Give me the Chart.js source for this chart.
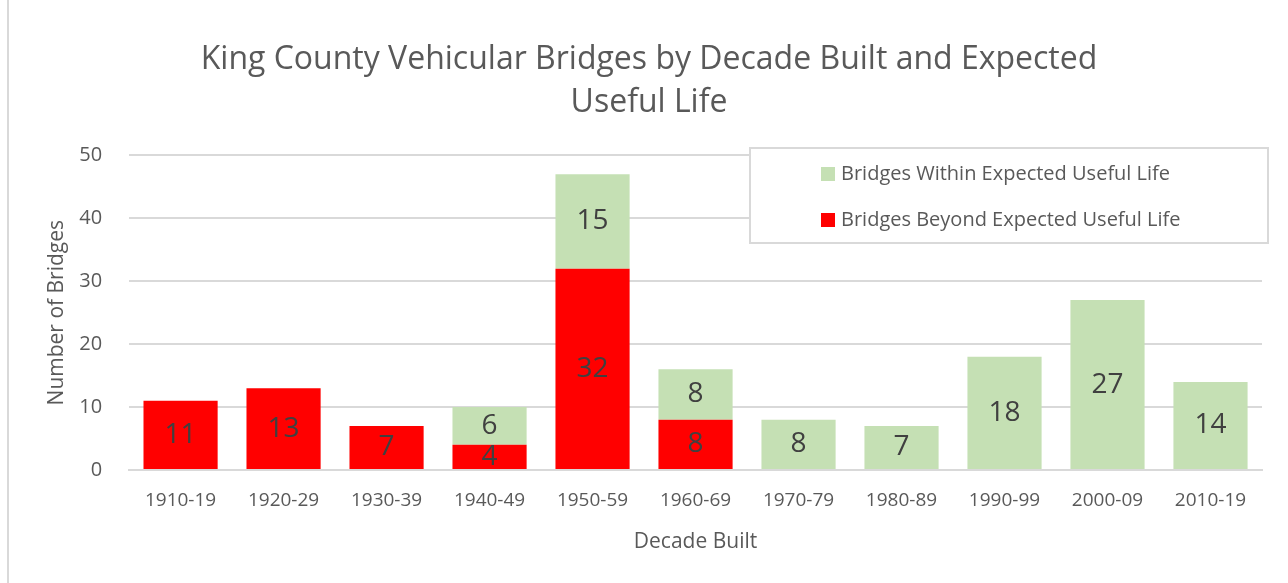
<!DOCTYPE html>
<html>
<head>
<meta charset="utf-8">
<script src="https://cdn.jsdelivr.net/npm/chart.js@4.4.0/dist/chart.umd.min.js"></script>
<style>
  html, body { margin: 0; padding: 0; background: #fff; }
  #wrap { position: relative; width: 1288px; height: 583px; }
  #frame { position: absolute; left: 7px; top: 0; width: 1290px; height: 600px; border-left: 2px solid #d9d9d9; }
  canvas { position: absolute; left: 0; top: 0; }
</style>
</head>
<body>
<div id="wrap">
  <div id="frame"></div>
  <canvas id="chart" width="1288" height="583"></canvas>
</div>
<script>
// Chart data
const decades = ['1910-19', '1920-29', '1930-39', '1940-49', '1950-59', '1960-69',
                 '1970-79', '1980-89', '1990-99', '2000-09', '2010-19'];
const beyondLife = [11, 13, 7, 4, 32, 8, 0, 0, 0, 0, 0];
const withinLife = [0, 0, 0, 6, 15, 8, 8, 7, 18, 27, 14];
const yTicks = [0, 10, 20, 30, 40, 50];

const FONT = "'Open Sans', 'Liberation Sans', sans-serif";
const TEXT_GREY = '#595959';

// Draw value labels centred in each bar segment
const segmentLabels = {
  id: 'segmentLabels',
  afterDatasetsDraw(chart) {
    const ctx = chart.ctx;
    ctx.save();
    ctx.font = `28px ${FONT}`;
    ctx.fillStyle = '#404040';
    ctx.textAlign = 'center';
    ctx.textBaseline = 'middle';
    chart.data.datasets.forEach((ds, di) => {
      chart.getDatasetMeta(di).data.forEach((bar, i) => {
        const v = ds.data[i];
        if (!v) return;
        const mid = (bar.y + bar.base) / 2;
        ctx.fillText(String(v), bar.x, mid);
      });
    });
    ctx.restore();
  }
};

// Boxed legend in the top right, green entry first
const boxLegend = {
  id: 'boxLegend',
  afterDraw(chart) {
    const ctx = chart.ctx;
    const x = 750, y = 148, w = 518, h = 95;
    ctx.save();
    ctx.fillStyle = '#fff';
    ctx.fillRect(x, y, w, h);
    ctx.strokeStyle = '#d9d9d9';
    ctx.lineWidth = 2;
    ctx.strokeRect(x, y, w, h);
    ctx.font = `20px ${FONT}`;
    ctx.textBaseline = 'middle';
    const items = chart.data.datasets.slice().reverse();
    items.forEach((ds, k) => {
      const cy = y + 26 + k * 46;
      ctx.fillStyle = ds.backgroundColor;
      ctx.fillRect(821, cy - 7, 14, 14);
      ctx.fillStyle = TEXT_GREY;
      ctx.fillText(ds.label, 841, cy);
    });
    ctx.restore();
  }
};

new Chart(document.getElementById('chart'), {
  type: 'bar',
  data: {
    labels: decades,
    datasets: [
      { label: 'Bridges Beyond Expected Useful Life', data: beyondLife, backgroundColor: '#ff0000' },
      { label: 'Bridges Within Expected Useful Life', data: withinLife, backgroundColor: '#c5e0b4' },
    ],
  },
  options: {
    responsive: false,
    animation: false,
    layout: { padding: { left: 36, right: 26, top: 0, bottom: 24 } },
    datasets: { bar: { barPercentage: 1, categoryPercentage: 0.72 } },
    plugins: {
      legend: { display: false },
      tooltip: { enabled: false },
      title: {
        display: true,
        text: ['King County Vehicular Bridges by Decade Built and Expected', 'Useful Life'],
        color: TEXT_GREY,
        font: { family: FONT, size: 32, weight: 'normal', lineHeight: 1.35 },
        padding: { top: 38, bottom: 31 },
      },
    },
    scales: {
      x: {
        stacked: true,
        grid: { display: false, drawTicks: false },
        border: { color: '#d9d9d9', width: 2 },
        ticks: { color: TEXT_GREY, font: { family: FONT, size: 19 }, padding: 19 },
        title: { display: true, text: 'Decade Built', color: TEXT_GREY,
                 font: { family: FONT, size: 21 }, padding: { top: -1 } },
      },
      y: {
        stacked: true,
        min: 0, max: 50,
        afterBuildTicks(axis) { axis.ticks = yTicks.map(v => ({ value: v })); },
        grid: { color: '#d9d9d9', lineWidth: 2, drawTicks: false },
        border: { display: false },
        ticks: { color: TEXT_GREY, font: { family: FONT, size: 20 }, padding: 27 },
        title: { display: true, text: 'Number of Bridges', color: TEXT_GREY,
                 font: { family: FONT, size: 21 }, padding: { top: 8, bottom: -17 } },
      },
    },
  },
  plugins: [segmentLabels, boxLegend],
});
</script>
</body>
</html>
